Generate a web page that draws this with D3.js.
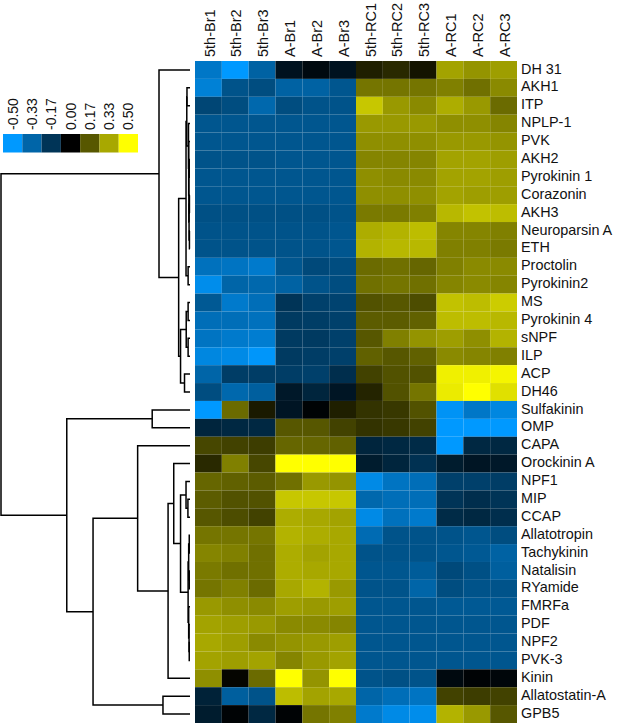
<!DOCTYPE html>
<html>
<head>
<meta charset="utf-8">
<script src="https://cdn.jsdelivr.net/npm/d3@7"></script>
<style>
  body { margin: 0; background: #fff; }
  svg { display: block; }
  text { font-family: "Liberation Sans", Arial, sans-serif; fill: #111; }
</style>
</head>
<body>
<script>
var columns = ["5th-Br1","5th-Br2","5th-Br3","A-Br1","A-Br2","A-Br3","5th-RC1","5th-RC2","5th-RC3","A-RC1","A-RC2","A-RC3"];

var peptides = ["DH 31","AKH1","ITP","NPLP-1","PVK","AKH2","Pyrokinin 1","Corazonin","AKH3","Neuroparsin A","ETH","Proctolin","Pyrokinin2","MS","Pyrokinin 4","sNPF","ILP","ACP","DH46","Sulfakinin","OMP","CAPA","Orockinin A","NPF1","MIP","CCAP","Allatotropin","Tachykinin","Natalisin","RYamide","FMRFa","PDF","NPF2","PVK-3","Kinin","Allatostatin-A","GPB5"];

var values = [
  [-.39,-.50,-.32,-.06,-.03,-.06,.06,.08,.04,.32,.29,.31],
  [-.42,-.27,-.25,-.32,-.32,-.28,.23,.23,.23,.25,.22,.27],
  [-.23,-.25,-.34,-.25,-.27,-.27,.39,.30,.27,.34,.30,.21],
  [-.28,-.28,-.28,-.28,-.28,-.28,.30,.30,.30,.28,.28,.26],
  [-.28,-.28,-.28,-.28,-.28,-.28,.28,.28,.28,.30,.30,.29],
  [-.27,-.27,-.27,-.28,-.28,-.28,.26,.26,.26,.32,.32,.31],
  [-.28,-.28,-.28,-.28,-.28,-.28,.28,.27,.27,.32,.32,.31],
  [-.28,-.28,-.28,-.28,-.28,-.28,.28,.28,.28,.32,.31,.31],
  [-.26,-.26,-.26,-.26,-.26,-.27,.24,.24,.25,.36,.38,.37],
  [-.27,-.27,-.27,-.27,-.27,-.28,.34,.35,.37,.26,.26,.25],
  [-.27,-.27,-.27,-.27,-.27,-.28,.35,.36,.36,.25,.25,.24],
  [-.37,-.38,-.40,-.28,-.24,-.25,.21,.22,.20,.25,.27,.27],
  [-.46,-.33,-.34,-.32,-.27,-.25,.22,.23,.22,.26,.27,.26],
  [-.29,-.40,-.36,-.17,-.21,-.22,.16,.17,.15,.38,.37,.40],
  [-.36,-.36,-.37,-.19,-.20,-.21,.18,.18,.19,.37,.37,.36],
  [-.38,-.40,-.41,-.19,-.19,-.21,.17,.25,.29,.31,.28,.35],
  [-.44,-.45,-.49,-.19,-.20,-.21,.19,.17,.19,.27,.26,.25],
  [-.33,-.20,-.20,-.20,-.21,-.15,.13,.16,.16,.47,.47,.48],
  [-.25,-.34,-.31,-.08,-.12,-.07,.07,.16,.23,.46,.50,.44],
  [-.50,.21,.05,-.07,-.01,.06,.10,.11,.16,-.48,-.39,-.44],
  [-.12,-.13,-.13,.17,.17,.13,.10,.11,.13,-.50,-.50,-.50],
  [.14,.13,.12,.20,.20,.19,-.12,-.13,-.14,-.50,-.13,-.13],
  [.08,.25,.14,.50,.50,.50,-.09,-.12,-.16,-.09,-.07,-.08],
  [.20,.19,.18,.22,.30,.29,-.45,-.38,-.36,-.21,-.21,-.20],
  [.18,.16,.16,.39,.39,.39,-.34,-.36,-.36,-.17,-.15,-.17],
  [.17,.15,.13,.34,.33,.32,-.45,-.37,-.40,-.14,-.13,-.15],
  [.23,.23,.23,.35,.34,.33,-.35,-.27,-.27,-.27,-.28,-.25],
  [.26,.25,.22,.34,.32,.33,-.27,-.27,-.27,-.28,-.29,-.32],
  [.24,.22,.22,.34,.33,.33,-.28,-.28,-.30,-.24,-.26,-.31],
  [.23,.25,.21,.33,.35,.30,-.27,-.27,-.33,-.25,-.27,-.27],
  [.30,.28,.27,.31,.30,.31,-.28,-.28,-.28,-.29,-.29,-.29],
  [.32,.31,.30,.27,.27,.26,-.28,-.28,-.28,-.28,-.28,-.28],
  [.33,.31,.27,.29,.30,.31,-.28,-.28,-.28,-.28,-.28,-.28],
  [.32,.31,.32,.26,.30,.32,-.28,-.28,-.28,-.28,-.28,-.28],
  [.28,.01,.21,.50,.29,.50,-.27,-.26,-.27,-.03,-.01,-.02],
  [-.11,-.31,-.27,.37,.32,.33,-.33,-.36,-.38,.13,.12,.13],
  [-.09,-.01,-.13,-.01,.23,.25,-.40,-.45,-.46,.35,.30,.17]
];

var legendValues = [-0.50,-0.33,-0.17,0.00,0.17,0.33,0.50];

// row clustering: [distance, child, child], a number is a row of the heatmap
var clusterTop = [.164, 0,
  [.06,
    [.021,
      [.017, [.016, 1, 2],
        [.008, 3, [.007, 4, [.006, [.004, 5, 6], [.005, [.003, 7, 8], [.003, 9, 10]]]]]],
      [.01, 11, 12]],
    [.05,
      [.02, [.01, 13, 14], [.01, 15, 16]],
      [.029, 17, 18]]]];
var clusterMid = [.2, 19, 20];
var clusterBottom = [.513,
  [.277, 21,
    [.116,
      [.086,
        22,
        [.05,
          [.021, 23, [.011, 24, 25]],
          [.01,
            [.007, [.004, 26, 27], [.004, 28, 29]],
            [.007, 30, [.005, 31, [.004, 32, 33]]]]]],
      34]],
  [.143, 35, 36]];
var clusterTree = [1, clusterTop, [.652, clusterMid, clusterBottom]];

var svg = d3.select("body").append("svg")
  .attr("width", 617)
  .attr("height", 723);

var color = d3.scaleLinear()
  .domain([-0.5, 0, 0.5])
  .range(["#0099ff", "#000000", "#ffff00"])
  .clamp(true);

var x = d3.scaleBand().domain(columns).range([195, 517]);
var y = d3.scaleBand().domain(d3.range(peptides.length)).range([61, 723]);

//heatmap
var rows = svg.append("g").selectAll("g")
  .data(values)
  .enter()
  .append("g");

rows.selectAll("rect")
  .data((d, i) => d.map((v, j) => ({v: v, i: i, j: j})))
  .enter()
  .append("rect")
  .attr("x", d => x(columns[d.j]))
  .attr("y", d => y(d.i))
  .attr("width", x.bandwidth())
  .attr("height", y.bandwidth())
  .attr("fill", d => color(d.v));

//column labels
var topAxis = svg.append("g")
  .attr("transform", "translate(0,57)")
  .call(d3.axisTop(x).tickSize(0).tickPadding(0));
topAxis.select(".domain").remove();
topAxis.selectAll("text")
  .attr("font-size", 14.5)
  .attr("transform", "rotate(-90)")
  .attr("text-anchor", "start")
  .attr("x", 0)
  .attr("y", 0)
  .attr("dy", "0.36em");

topAxis.selectAll(".tick")
  .attr("transform", d => "translate(" + (x(d) + x.bandwidth() / 2 + 1) + ",0)");

//row labels
var rightAxis = svg.append("g")
  .attr("transform", "translate(521,-1)")
  .call(d3.axisRight(y).tickSize(0).tickPadding(0).tickFormat(i => peptides[i]));
rightAxis.select(".domain").remove();
rightAxis.selectAll("text")
  .attr("font-size", 14.4);

//dendrogram
var xDist = d3.scaleLinear().domain([0, 1]).range([190, 1]);

function rowY(i) {
  return y(i) + y.bandwidth() / 2;
}

function drawCluster(g, node) {
  if (typeof node === "number") {
    return {x: xDist(0), y: rowY(node)};
  }
  var a = drawCluster(g, node[1]);
  var b = drawCluster(g, node[2]);
  var px = xDist(node[0]);
  g.append("path")
    .attr("d", "M" + a.x + "," + a.y + "H" + px + "V" + b.y + "H" + b.x);
  return {x: px, y: (a.y + b.y) / 2};
}

var dendro = svg.append("g")
  .attr("fill", "none")
  .attr("stroke", "#000")
  .attr("stroke-width", 1.5);
drawCluster(dendro, clusterTree);

//colour key
var xKey = d3.scaleBand().domain(legendValues).range([3, 138]);

svg.append("g").selectAll("rect")
  .data(legendValues)
  .enter()
  .append("rect")
  .attr("x", d => xKey(d))
  .attr("y", 134)
  .attr("width", xKey.bandwidth())
  .attr("height", 18.5)
  .attr("fill", d => color(d));

var keyAxis = svg.append("g")
  .attr("transform", "translate(0,130)")
  .call(d3.axisTop(xKey).tickSize(0).tickPadding(0).tickFormat(d => d.toFixed(2)));
keyAxis.select(".domain").remove();
keyAxis.selectAll("text")
  .attr("font-size", 14)
  .attr("transform", "rotate(-90)")
  .attr("text-anchor", "start")
  .attr("x", 0)
  .attr("y", 0)
  .attr("dy", "0.36em");
</script>
</body>
</html>
